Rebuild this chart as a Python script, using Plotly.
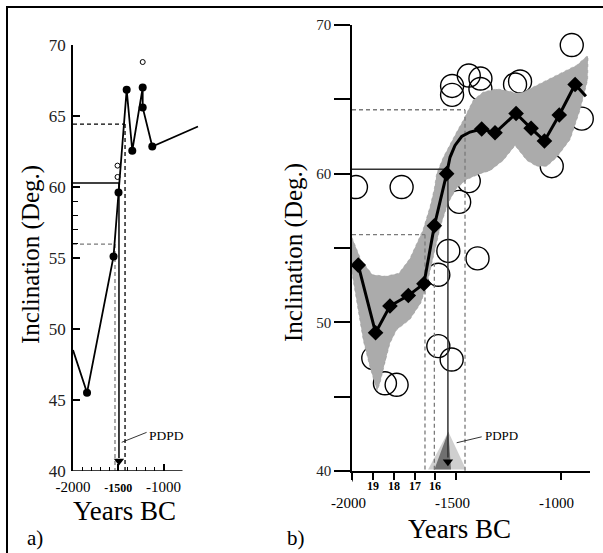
import plotly.graph_objects as go

W, H = 603, 553
SERIF = "Liberation Serif"


def fx(p):
    return p / W


def fy(p):
    return 1 - p / H


# ---------------- panel a: archaeomagnetic inclination record ----------------
a_years = [-2000, -1845, -1552, -1497, -1407, -1345, -1230, -1230, -1124, -619]
a_incl = [48.5, 45.5, 55.1, 59.6, 66.85, 62.55, 67.0, 65.6, 62.85, 64.26]
a_dot_years = [-1845, -1552, -1497, -1407, -1345, -1230, -1230, -1124]
a_dot_incl = [45.5, 55.1, 59.6, 66.85, 62.55, 67.0, 65.6, 62.85]
a_open_years = [-1508, -1508, -1230]
a_open_incl = [60.7, 61.5, 68.8]

# panel a reference levels / dates
a_level_mid, a_date_mid = 60.27, -1492
a_level_low, a_date_low = 55.97, -1536
a_level_high, a_date_high = 64.43, -1425

# ---------------- panel b: individual results and mean curve ----------------
b_circ_years = [-1762, -1898, -1842, -1786, -1538, -1586, -1398, -1486, -1440,
                -1586, -1522, -1520, -1520, -1440, -1384, -1384, -1218, -1194,
                -946, -898, -1042]
b_circ_incl = [59.1, 47.6, 45.9, 45.8, 54.8, 53.2, 54.3, 58.1, 59.5,
               48.4, 47.5, 65.9, 65.3, 66.6, 66.4, 65.7, 66.0, 66.2,
               68.65, 63.7, 60.5]
b_circ_edge_years = [-1981]        # clipped at the axis
b_circ_edge_incl = [59.1]
b_circ_out_years = [-2015]         # drawn over the axis
b_circ_out_incl = [49.75]

b_mean_years = [-1970, -1887, -1818, -1730, -1655, -1605, -1546, -1530, -1506,
                -1474, -1434, -1378, -1314, -1213, -1141, -1077, -1006, -930, -878]
b_mean_incl = [53.85, 49.3, 51.1, 51.8, 52.6, 56.5, 60.0, 61.1, 61.9,
               62.5, 62.8, 63.0, 62.75, 64.05, 63.05, 62.2, 63.95, 66.0, 65.2]
b_dia_years = [-1970, -1887, -1818, -1730, -1655, -1605, -1546, -1378, -1314,
               -1213, -1141, -1077, -1006, -930]
b_dia_incl = [53.85, 49.3, 51.1, 51.8, 52.6, 56.5, 60.0, 63.0, 62.75,
              64.05, 63.05, 62.2, 63.95, 66.0]

b_up_years = [-2000, -1957, -1902, -1838, -1775, -1722, -1660, -1625, -1605,
              -1594, -1562, -1530, -1498, -1466, -1418, -1370, -1306, -1258,
              -1210, -1178, -1114, -1050, -987, -922, -874, -868]
b_up_incl = [55.7, 54.2, 53.2, 53.1, 53.3, 54.3, 56.2, 57.8, 59.0,
             60.0, 61.1, 62.0, 62.8, 63.6, 64.95, 65.5, 65.7, 65.6,
             65.4, 65.5, 65.96, 66.4, 66.85, 67.3, 67.9, 67.9]
b_lo_years = [-870, -906, -954, -1018, -1066, -1114, -1162, -1218, -1274, -1338,
              -1386, -1450, -1500, -1540, -1575, -1610, -1640, -1670, -1722,
              -1786, -1818, -1842, -1866, -1880, -1914, -1946, -1977, -2000]
b_lo_incl = [66.3, 64.3, 62.3, 61.1, 60.5, 60.5, 60.9, 61.9, 60.9, 60.2,
             60.0, 59.6, 59.0, 58.0, 56.5, 54.3, 52.6, 51.3, 50.2,
             49.5, 48.6, 47.3, 45.9, 45.4, 47.0, 48.8, 51.5, 53.3]

# century ticks and labelled dates on the panel b time axis
b_century_years = [-1900, -1800, -1700, -1600]
b_century_text = ["19", "18", "17", "16"]
b_date_ticks = [-2000, -1500, -1000]

# panel b reference levels / dates
b_level_mid, b_date_mid = 60.3, -1540
b_level_low, b_date_low, b_date_low2 = 55.9, -1650, -1605
b_low2_top = 54.0
b_level_high, b_date_high = 64.3, -1458

# PDPD probability wedge
pdpd_light_years = [-1635, -1538, -1453]
pdpd_dark_years = [-1605, -1538, -1525]
pdpd_incl = [40.1, 42.64, 40.1]

fig = go.Figure()

XA, YA = dict(xaxis="x", yaxis="y"), dict(xaxis="x2", yaxis="y2")
GRAY_DASH = "#7a7a7a"


def seg(xs, ys, color="black", width=1.5, dash="solid", axes=XA):
    fig.add_trace(go.Scatter(x=xs, y=ys, mode="lines", hoverinfo="skip",
                             line=dict(color=color, width=width, dash=dash),
                             showlegend=False, **axes))


# ---- panel a traces ----
seg([-2000, a_date_low], [a_level_low] * 2, GRAY_DASH, 1.3, "4px,3px")
seg([a_date_low] * 2, [a_level_low, 40], GRAY_DASH, 1.3, "4px,3px")
seg([-2000, a_date_high], [a_level_high] * 2, "black", 1.3, "4px,3px")
seg([a_date_high] * 2, [a_level_high, 40], "black", 1.3, "4px,3px")
seg([-2000, a_date_mid], [a_level_mid] * 2, "black", 1.5)
seg([a_date_mid] * 2, [a_level_mid, 40.9], "black", 1.5)
fig.add_trace(go.Scatter(x=[a_date_mid], y=[40.68], mode="markers", showlegend=False,
                         marker=dict(symbol="triangle-down", size=9, color="black"), **XA))
fig.add_trace(go.Scatter(x=a_years, y=a_incl, mode="lines", showlegend=False,
                         line=dict(color="black", width=1.8), **XA))
fig.add_trace(go.Scatter(x=a_dot_years, y=a_dot_incl, mode="markers", showlegend=False,
                         marker=dict(size=8, color="black"), **XA))
fig.add_trace(go.Scatter(x=a_open_years, y=a_open_incl, mode="markers", showlegend=False,
                         marker=dict(size=5, color="rgba(0,0,0,0)",
                                     line=dict(color="black", width=1)), **XA))
seg([-1462, -1187], [42.0, 42.7], "black", 0.8)

# ---- panel b traces ----
circle_style = dict(size=23, color="rgba(0,0,0,0)", line=dict(color="black", width=1.4))
fig.add_trace(go.Scatter(x=b_circ_years, y=b_circ_incl, mode="markers", showlegend=False,
                         marker=circle_style, cliponaxis=False, **YA))
fig.add_trace(go.Scatter(x=b_circ_out_years, y=b_circ_out_incl, mode="markers",
                         showlegend=False, marker=circle_style, cliponaxis=False, **YA))
fig.add_trace(go.Scatter(x=b_circ_edge_years, y=b_circ_edge_incl, mode="markers",
                         showlegend=False, marker=circle_style, cliponaxis=True, **YA))
fig.add_trace(go.Scatter(x=b_up_years + b_lo_years, y=b_up_incl + b_lo_incl,
                         mode="lines", fill="toself", fillcolor="#ababab",
                         line=dict(color="#9a9a9a", width=0.6, dash="dot"),
                         showlegend=False, **YA))
fig.add_trace(go.Scatter(x=pdpd_light_years, y=pdpd_incl, mode="lines", fill="toself",
                         fillcolor="#cfcfcf", line=dict(width=0), showlegend=False, **YA))
fig.add_trace(go.Scatter(x=pdpd_dark_years, y=pdpd_incl, mode="lines", fill="toself",
                         fillcolor="#707070", line=dict(width=0), showlegend=False, **YA))
seg([-2000, b_date_low], [b_level_low] * 2, GRAY_DASH, 1.3, "4px,3px", YA)
seg([b_date_low] * 2, [b_level_low, 40], GRAY_DASH, 1.3, "4px,3px", YA)
seg([b_date_low2] * 2, [b_low2_top, 40], GRAY_DASH, 1.3, "4px,3px", YA)
seg([-2000, b_date_high], [b_level_high] * 2, GRAY_DASH, 1.3, "4px,3px", YA)
seg([b_date_high] * 2, [b_level_high, 40], GRAY_DASH, 1.3, "4px,3px", YA)
seg([-2000, b_date_mid], [b_level_mid] * 2, "#333333", 1.5, axes=YA)
seg([b_date_mid] * 2, [b_level_mid, 40.9], "#333333", 1.5, axes=YA)
fig.add_trace(go.Scatter(x=[b_date_mid], y=[40.63], mode="markers", showlegend=False,
                         marker=dict(symbol="triangle-down", size=9, color="black"), **YA))
fig.add_trace(go.Scatter(x=b_mean_years, y=b_mean_incl, mode="lines", showlegend=False,
                         line=dict(color="black", width=3), **YA))
fig.add_trace(go.Scatter(x=b_dia_years, y=b_dia_incl, mode="markers", showlegend=False,
                         marker=dict(symbol="diamond", size=12, color="black"), **YA))
seg([-1498, -1378], [41.9, 42.3], "black", 0.8, axes=YA)

tick_font = dict(family=SERIF, size=15, color="black")
a_minor_x = [-1900, -1800, -1700, -1600, -1400, -1300, -1200, -1100]

fig.update_layout(
    width=W, height=H, margin=dict(l=0, r=0, t=0, b=0, pad=0, autoexpand=False),
    paper_bgcolor="white", plot_bgcolor="rgba(0,0,0,0)", showlegend=False,
    font=dict(family=SERIF, color="black"),
    xaxis=dict(domain=[fx(73), fx(200)], range=[-2000, -2000 + 127 / 0.0905],
               showline=False, showgrid=False, zeroline=False, automargin=False,
               ticks="inside", ticklen=7, tickwidth=1.5, tickcolor="black",
               tickvals=[-2000, -1500, -1000],
               ticktext=["-2000", "<span style='font-size:12px'><b>-1500</b></span>", "-1000"],
               tickfont=tick_font, ticklabelstandoff=5,
               minor=dict(tickvals=a_minor_x, ticks="inside", ticklen=4,
                          tickwidth=1.3, tickcolor="black"),
               anchor="y"),
    yaxis=dict(domain=[fy(470.7), fy(45)], range=[40, 70],
               showline=True, linewidth=1.5, linecolor="black",
               showgrid=False, zeroline=False, automargin=False,
               ticks="inside", ticklen=7, tickwidth=1.5, tickcolor="black",
               tickvals=[40, 45, 50, 55, 60, 65, 70],
               tickfont=dict(family=SERIF, size=17, color="#222"),
               ticklabelstandoff=2,
               minor=dict(tickvals=[56, 57, 58, 59], ticks="inside", ticklen=5,
                          tickwidth=1.2, tickcolor="black"),
               anchor="x"),
    xaxis2=dict(domain=[fx(352), fx(590)], range=[-2000, -2000 + 238 / 0.2085],
                showline=True, linewidth=1.5, linecolor="black",
                showgrid=False, zeroline=False, automargin=False,
                ticks="outside", ticklen=7, tickwidth=1.5, tickcolor="black",
                tickvals=b_date_ticks + b_century_years, showticklabels=False,
                anchor="y2"),
    yaxis2=dict(domain=[fy(471), fy(25)], range=[40, 70],
                showline=True, linewidth=1.5, linecolor="black",
                showgrid=False, zeroline=False, automargin=False,
                ticks="outside", ticklen=16, tickwidth=1.5, tickcolor="black",
                tickvals=[40, 45, 50, 55, 60, 65, 70],
                ticktext=["40", "", "50", "", "60", "", "70"],
                tickfont=dict(family=SERIF, size=15, color="#222"), anchor="x2"),
)

# panel a x-axis line (shorter than the plotting window)
fig.add_shape(type="line", xref="x", yref="y", x0=-2000, x1=-790, y0=40, y1=40,
              line=dict(color="black", width=1.5))
# -2000 tick of panel b runs a little longer
fig.add_shape(type="line", xref="x2", yref="paper", x0=-2000, x1=-2000,
              y0=fy(471), y1=fy(481.5), line=dict(color="black", width=1.5))
# outer frame
fig.add_shape(type="path", xref="paper", yref="paper",
              path=f"M {fx(7)} 0 L {fx(7)} {fy(7)} L 1 {fy(7)}",
              line=dict(color="black", width=2))

ann = []


def label(text, x, y, size, xref="paper", yref="paper", angle=0, xshift=0, **kw):
    ann.append(dict(text=text, x=x, y=y, xref=xref, yref=yref, showarrow=False,
                    textangle=angle, xshift=xshift,
                    font=dict(family=SERIF, size=size, color="black"),
                    xanchor="center", yanchor="middle", **kw))


for v in b_date_ticks:
    label(str(v), v, fy(503), 15, xref="x2", xshift=-4)
for v, t in zip(b_century_years, b_century_text):
    label(f"<b>{t}</b>", v, fy(486), 12, xref="x2")
label("Years BC", fx(124), fy(511), 27)
label("Years BC", fx(459), fy(529), 27)
label("Inclination (Deg.)", fx(31), fy(255), 25, angle=-90)
label("Inclination (Deg.)", fx(294), fy(253), 25, angle=-90)
label("a)", fx(35), fy(538), 21)
label("b)", fx(296), fy(538), 21)
label("PDPD", -972, 42.5, 13.5, xref="x", yref="y")
label("PDPD", -1283, 42.4, 13, xref="x2", yref="y2")
fig.update_layout(annotations=ann)

fig.write_html("out.html")
